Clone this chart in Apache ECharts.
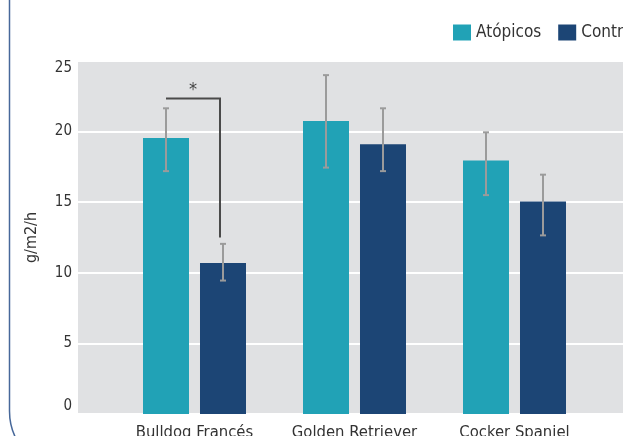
<!DOCTYPE html>
<html>
<head>
<meta charset="utf-8">
<script src="https://cdn.jsdelivr.net/npm/echarts@6/dist/echarts.min.js"></script>
<style>
  html, body { margin: 0; padding: 0; background: #ffffff; }
  #chart { width: 623px; height: 436px; }
</style>
</head>
<body>
<div id="chart"></div>
<script>
// ---- data ----
const categories = ['Bulldog Francés', 'Golden Retriever', 'Cocker Spaniel'];
const seriesNames = ['Atópicos', 'Controles'];
const atopicos = [19.55, 20.75, 17.95];
const controles = [10.7, 19.1, 15.05];
const atopicosErrLow = [17.2, 17.45, 15.5];
const atopicosErrHigh = [21.65, 24.0, 19.95];
const controlesErrLow = [9.45, 17.2, 12.65];
const controlesErrHigh = [12.05, 21.65, 16.95];
const yTicks = [0, 5, 10, 15, 20, 25];
const yAxisTitle = 'g/m2/h';
// significance bracket: between Atópicos and Controles of category 0
const sigCategory = 0;
const sigTop = 22.35;
const sigBottom = 12.5;
const sigLabel = '*';

// ---- style ----
const colAtop = '#21a2b6';
const colCtrl = '#1c4575';
const barWidth = 46;
const barGap = 0.239;
const barOffset = barWidth * (1 + barGap) / 2;
const font = "'Liberation Sans Narrow', 'DejaVu Sans Condensed', 'Liberation Sans', sans-serif";

const chart = echarts.init(document.getElementById('chart'), null, { renderer: 'canvas' });

function errItem(offsetSign) {
  return function (params, api) {
    const i = api.value(0);
    const lo = api.coord([i, api.value(1)]);
    const hi = api.coord([i, api.value(2)]);
    const x = lo[0] + offsetSign * barOffset;
    const cap = 3;
    const style = { stroke: '#9b9b9b', lineWidth: 2, fill: null };
    return {
      type: 'group',
      children: [
        { type: 'line', shape: { x1: x, y1: lo[1], x2: x, y2: hi[1] }, style: style },
        { type: 'line', shape: { x1: x - cap, y1: lo[1], x2: x + cap, y2: lo[1] }, style: style },
        { type: 'line', shape: { x1: x - cap, y1: hi[1], x2: x + cap, y2: hi[1] }, style: style }
      ]
    };
  };
}

const borderStyle = { fill: null, stroke: '#47689a', lineWidth: 1.5 };
const option = {
  backgroundColor: '#ffffff',
  animation: false,
  graphic: [
    {
      type: 'line', z: -10,
      shape: { x1: 9.5, y1: -10, x2: 9.5, y2: 411 },
      style: borderStyle
    },
    {
      type: 'arc', z: -10,
      shape: { cx: 69.5, cy: 411, r: 60, startAngle: Math.PI / 2, endAngle: Math.PI, clockwise: true },
      style: borderStyle
    }
  ],
  legend: {
    data: seriesNames,
    left: 453,
    top: 24,
    width: 400,
    padding: 0,
    itemWidth: 18,
    itemHeight: 16,
    itemGap: 17,
    icon: 'rect',
    textStyle: { fontFamily: font, fontSize: 17, color: '#333333' }
  },
  grid: [
    { left: 78, top: 61, width: 620, bottom: 22, show: true, backgroundColor: '#e0e1e3', borderWidth: 0, outerBoundsMode: 'none', containLabel: false },
    { left: 114.5, top: 61, width: 480, bottom: 22, outerBoundsMode: 'none', containLabel: false }
  ],
  xAxis: [
    { type: 'category', gridIndex: 0, data: categories, show: false },
    {
      type: 'category', gridIndex: 1, data: categories,
      axisLine: { show: false }, axisTick: { show: false },
      axisLabel: { interval: 0, fontFamily: font, fontSize: 16.5, color: '#333333', margin: 10 }
    }
  ],
  yAxis: [
    {
      type: 'value', gridIndex: 0, min: 0, max: 25, interval: 5,
      name: yAxisTitle, nameLocation: 'middle', nameGap: 38, nameRotate: 90,
      nameTextStyle: { fontFamily: font, fontSize: 16, color: '#333333' },
      axisLine: { show: false }, axisTick: { show: false },
      splitLine: { show: true, lineStyle: { color: '#ffffff', width: 2 } },
      axisLabel: {
        fontFamily: font, fontSize: 15, color: '#333333', margin: 6,
        verticalAlignMinLabel: 'bottom', verticalAlignMaxLabel: 'top',
        formatter: function (v) { return yTicks.indexOf(v) >= 0 ? String(v) : ''; }
      }
    },
    { type: 'value', gridIndex: 1, min: 0, max: 25, interval: 5, show: false, splitLine: { show: false } }
  ],
  series: [
    {
      name: seriesNames[0], type: 'bar', xAxisIndex: 1, yAxisIndex: 1,
      data: atopicos, barWidth: barWidth, barGap: (barGap * 100) + '%',
      itemStyle: { color: colAtop }
    },
    {
      name: seriesNames[1], type: 'bar', xAxisIndex: 1, yAxisIndex: 1,
      data: controles, barWidth: barWidth, barGap: (barGap * 100) + '%',
      itemStyle: { color: colCtrl }
    },
    {
      type: 'custom', xAxisIndex: 1, yAxisIndex: 1, z: 5,
      data: categories.map((c, i) => [i, atopicosErrLow[i], atopicosErrHigh[i]]),
      renderItem: errItem(-1)
    },
    {
      type: 'custom', xAxisIndex: 1, yAxisIndex: 1, z: 5,
      data: categories.map((c, i) => [i, controlesErrLow[i], controlesErrHigh[i]]),
      renderItem: errItem(1)
    },
    {
      type: 'custom', xAxisIndex: 1, yAxisIndex: 1, z: 6,
      data: [[sigCategory, sigTop, sigBottom]],
      renderItem: function (params, api) {
        const i = api.value(0);
        const top = api.coord([i, api.value(1)]);
        const bot = api.coord([i, api.value(2)]);
        const xl = top[0] - barOffset;
        const xr = top[0] + barOffset - 3;
        return {
          type: 'group',
          children: [
            {
              type: 'polyline',
              shape: { points: [[xl, top[1]], [xr, top[1]], [xr, bot[1]]] },
              style: { stroke: '#4a4a4a', lineWidth: 2, fill: null }
            },
            {
              type: 'text',
              style: {
                text: sigLabel, x: (xl + xr) / 2, y: top[1] + 1,
                align: 'center', verticalAlign: 'bottom',
                fontSize: 18, fontFamily: font, fill: '#444444'
              }
            }
          ]
        };
      }
    }
  ]
};
chart.setOption(option);
</script>
</body>
</html>
